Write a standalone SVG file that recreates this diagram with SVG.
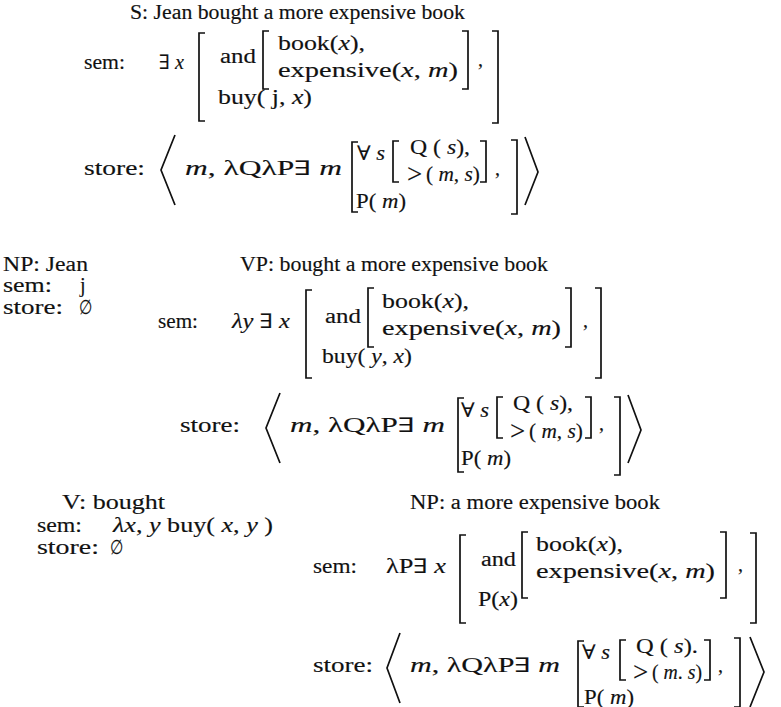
<svg xmlns="http://www.w3.org/2000/svg" width="781" height="707" viewBox="0 0 781 707">
<style>
text{font-family:"Liberation Serif","DejaVu Serif",serif;font-size:20px;fill:#111;stroke:#111;stroke-width:0.15}
.i{font-style:italic}
.g{font-size:27px}
.b{fill:none;stroke:#111;stroke-width:1.7}
</style>
<rect width="781" height="707" fill="#fff"/>
<g id="S">
<text x="130" y="19" textLength="335" lengthAdjust="spacingAndGlyphs">S: Jean bought a more expensive book</text>
<text x="84" y="69" textLength="41" lengthAdjust="spacingAndGlyphs">sem:</text>
<text x="159" y="69" textLength="25" lengthAdjust="spacingAndGlyphs">∃ <tspan class="i">x</tspan></text>
<path class="b" d="M205 33H199V121H205"/>
<text x="220" y="63" textLength="36" lengthAdjust="spacingAndGlyphs">and</text>
<path class="b" d="M269 31H263V89H269"/>
<text x="278" y="50" textLength="87" lengthAdjust="spacingAndGlyphs">book(<tspan class="i">x</tspan>),</text>
<text x="278" y="77" textLength="180" lengthAdjust="spacingAndGlyphs">expensive(<tspan class="i">x</tspan>, <tspan class="i">m</tspan>)</text>
<path class="b" d="M462 31H468V89H462"/>
<text x="478" y="66">,</text>
<path class="b" d="M492 31H498V123H492"/>
<text x="218" y="104" textLength="94" lengthAdjust="spacingAndGlyphs">buy( j, <tspan class="i">x</tspan>)</text>
<text x="84" y="175" textLength="61" lengthAdjust="spacingAndGlyphs">store:</text>
<path class="b" d="M175 135L161 170L175 205"/>
<text x="185" y="175" textLength="157" lengthAdjust="spacingAndGlyphs"><tspan class="i">m</tspan>, λQλP∃ <tspan class="i">m</tspan></text>
<path class="b" d="M358 142H352V212H358"/>
<text x="357" y="160" textLength="28" lengthAdjust="spacingAndGlyphs">∀ <tspan class="i">s</tspan></text>
<path class="b" d="M399 141H393V182H399"/>
<text x="410" y="154" textLength="60" lengthAdjust="spacingAndGlyphs">Q ( <tspan class="i">s</tspan>),</text>
<text class="g" x="407" y="183">&gt;</text>
<text x="426" y="181" textLength="54" lengthAdjust="spacingAndGlyphs">( <tspan class="i">m</tspan>, <tspan class="i">s</tspan>)</text>
<path class="b" d="M480 141H486V182H480"/>
<text x="495" y="175">,</text>
<path class="b" d="M511 140H517V214H511"/>
<path class="b" d="M525 137L538 172L525 205"/>
<text x="356" y="208" textLength="50" lengthAdjust="spacingAndGlyphs">P( <tspan class="i">m</tspan>)</text>
</g>
<g id="NP-Jean">
<text x="3" y="271" textLength="85" lengthAdjust="spacingAndGlyphs">NP: Jean</text>
<text x="3" y="292" textLength="49" lengthAdjust="spacingAndGlyphs">sem:</text>
<text x="80" y="292">j</text>
<text x="3" y="314" textLength="60" lengthAdjust="spacingAndGlyphs">store:</text>
<text x="79" y="314" textLength="13" lengthAdjust="spacingAndGlyphs">∅</text>
</g>
<g id="VP">
<text x="240" y="271" textLength="308" lengthAdjust="spacingAndGlyphs">VP: bought a more expensive book</text>
<text x="158" y="328" textLength="40" lengthAdjust="spacingAndGlyphs">sem:</text>
<text x="232" y="328" textLength="58" lengthAdjust="spacingAndGlyphs"><tspan class="i">λy</tspan> ∃ <tspan class="i">x</tspan></text>
<path class="b" d="M312 290H306V378H312"/>
<text x="325" y="323" textLength="36" lengthAdjust="spacingAndGlyphs">and</text>
<path class="b" d="M374 288H368V347H374"/>
<text x="382" y="308" textLength="87" lengthAdjust="spacingAndGlyphs">book(<tspan class="i">x</tspan>),</text>
<text x="382" y="335" textLength="179" lengthAdjust="spacingAndGlyphs">expensive(<tspan class="i">x</tspan>, <tspan class="i">m</tspan>)</text>
<path class="b" d="M565 288H571V347H565"/>
<text x="583" y="327">,</text>
<path class="b" d="M595 288H601V378H595"/>
<text x="322" y="363" textLength="90" lengthAdjust="spacingAndGlyphs">buy( <tspan class="i">y</tspan>, <tspan class="i">x</tspan>)</text>
<text x="180" y="432" textLength="60" lengthAdjust="spacingAndGlyphs">store:</text>
<path class="b" d="M280 393L266 428L280 463"/>
<text x="290" y="432" textLength="155" lengthAdjust="spacingAndGlyphs"><tspan class="i">m</tspan>, λQλP∃ <tspan class="i">m</tspan></text>
<path class="b" d="M464 398H458V472H464"/>
<text x="461" y="417" textLength="28" lengthAdjust="spacingAndGlyphs">∀ <tspan class="i">s</tspan></text>
<path class="b" d="M503 397H497V438H503"/>
<text x="513" y="410" textLength="60" lengthAdjust="spacingAndGlyphs">Q ( <tspan class="i">s</tspan>),</text>
<text class="g" x="510" y="440">&gt;</text>
<text x="529" y="438" textLength="54" lengthAdjust="spacingAndGlyphs">( <tspan class="i">m</tspan>, <tspan class="i">s</tspan>)</text>
<path class="b" d="M585 397H591V438H585"/>
<text x="599" y="430">,</text>
<path class="b" d="M614 397H620V475H614"/>
<path class="b" d="M628 395L641 430L628 463"/>
<text x="461" y="465" textLength="50" lengthAdjust="spacingAndGlyphs">P( <tspan class="i">m</tspan>)</text>
</g>
<g id="V">
<text x="62" y="509" textLength="103" lengthAdjust="spacingAndGlyphs">V: bought</text>
<text x="37" y="532" textLength="45" lengthAdjust="spacingAndGlyphs">sem:</text>
<text x="113" y="532" textLength="160" lengthAdjust="spacingAndGlyphs"><tspan class="i">λx</tspan>, <tspan class="i">y</tspan> buy( <tspan class="i">x</tspan>, <tspan class="i">y</tspan> )</text>
<text x="37" y="554" textLength="62" lengthAdjust="spacingAndGlyphs">store:</text>
<text x="110" y="554" textLength="13" lengthAdjust="spacingAndGlyphs">∅</text>
</g>
<g id="NP-book">
<text x="410" y="509" textLength="250" lengthAdjust="spacingAndGlyphs">NP: a more expensive book</text>
<text x="313" y="573" textLength="44" lengthAdjust="spacingAndGlyphs">sem:</text>
<text x="386" y="573" textLength="60" lengthAdjust="spacingAndGlyphs">λP∃ <tspan class="i">x</tspan></text>
<path class="b" d="M466 535H460V623H466"/>
<text x="481" y="566" textLength="35" lengthAdjust="spacingAndGlyphs">and</text>
<path class="b" d="M528 532H522V598H528"/>
<text x="536" y="551" textLength="87" lengthAdjust="spacingAndGlyphs">book(<tspan class="i">x</tspan>),</text>
<text x="536" y="578" textLength="179" lengthAdjust="spacingAndGlyphs">expensive(<tspan class="i">x</tspan>, <tspan class="i">m</tspan>)</text>
<path class="b" d="M720 532H726V598H720"/>
<text x="738" y="571">,</text>
<path class="b" d="M750 533H756V623H750"/>
<text x="478" y="606" textLength="40" lengthAdjust="spacingAndGlyphs">P(<tspan class="i">x</tspan>)</text>
<text x="313" y="672" textLength="60" lengthAdjust="spacingAndGlyphs">store:</text>
<path class="b" d="M400 633L387 668L400 703"/>
<text x="410" y="672" textLength="150" lengthAdjust="spacingAndGlyphs"><tspan class="i">m</tspan>, λQλP∃ <tspan class="i">m</tspan></text>
<path class="b" d="M584 641H578V707H584"/>
<text x="582" y="659" textLength="28" lengthAdjust="spacingAndGlyphs">∀ <tspan class="i">s</tspan></text>
<path class="b" d="M626 640H620V680H626"/>
<text x="636" y="653" textLength="62" lengthAdjust="spacingAndGlyphs">Q ( <tspan class="i">s</tspan>).</text>
<text class="g" x="633" y="681">&gt;</text>
<text x="652" y="679" textLength="50" lengthAdjust="spacingAndGlyphs">( <tspan class="i">m</tspan>. <tspan class="i">s</tspan>)</text>
<path class="b" d="M704 640H710V680H704"/>
<text x="718" y="672">,</text>
<path class="b" d="M734 638H740V707H734"/>
<path class="b" d="M750 637L764 672L750 707"/>
<text x="584" y="704" textLength="50" lengthAdjust="spacingAndGlyphs">P( <tspan class="i">m</tspan>)</text>
</g>
</svg>
